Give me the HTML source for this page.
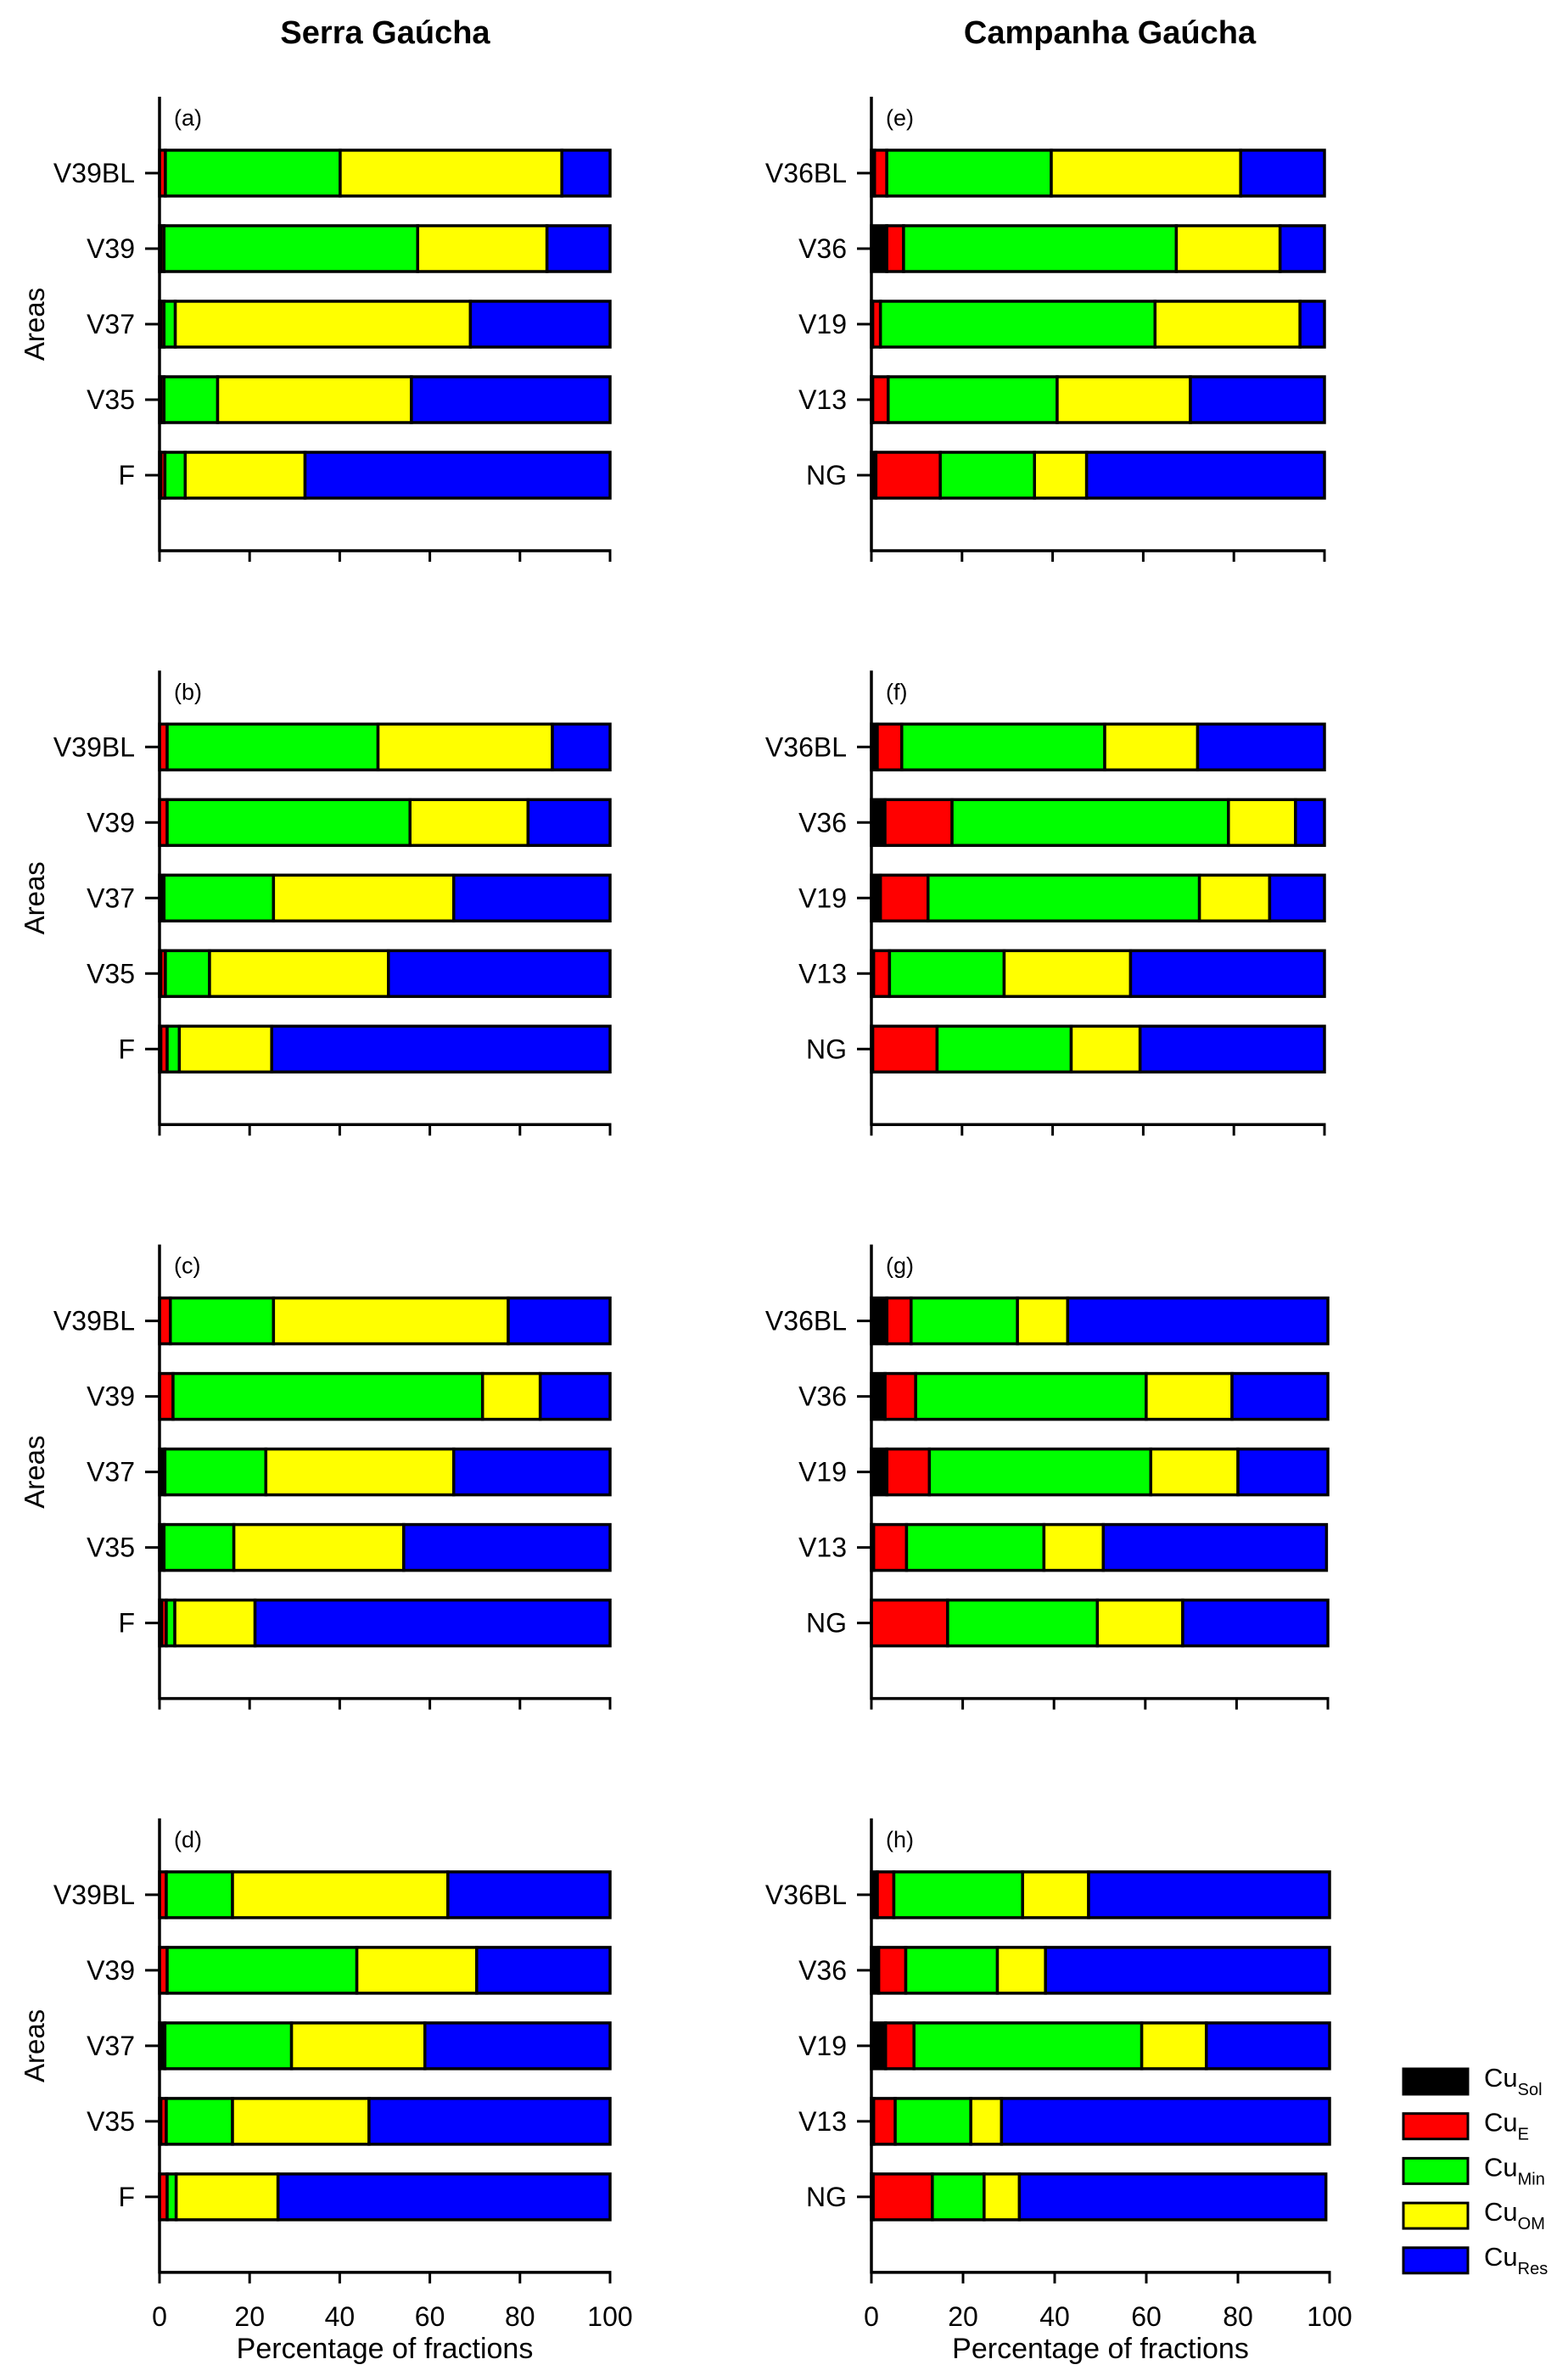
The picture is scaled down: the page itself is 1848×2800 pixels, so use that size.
<!DOCTYPE html>
<html><head><meta charset="utf-8"><style>
html,body{margin:0;padding:0;background:#fff;}
svg{display:block;font-family:"Liberation Sans",Arial,sans-serif;}
</style></head><body>
<svg id="chart" xmlns="http://www.w3.org/2000/svg" width="1848" height="2800" viewBox="0 0 1848 2800">
<text x="454" y="51" font-size="38" font-weight="bold" text-anchor="middle">Serra Gaúcha</text>
<text x="1308" y="51" font-size="38" font-weight="bold" text-anchor="middle">Campanha Gaúcha</text>
<g id="panels"></g>
<g id="legend"></g>
</svg>
<script>
const catsLeft = ["V39BL","V39","V37","V35","F"];
const catsRight = ["V36BL","V36","V19","V13","NG"];
const panelLabels = ["(a)","(b)","(c)","(d)","(e)","(f)","(g)","(h)"];
const fractionNames = ["Sol","E","Min","OM","Res"];
const fractionColors = ["#000000","#ff0000","#00ff00","#ffff00","#0000ff"];
const xTicks = [0,20,40,60,80,100];

const aSol=[0,0.3,0.3,0.3,0.3], aE=[1.3,0.7,0.7,0.7,0.9], aMin=[38.8,56.3,2.5,11.9,4.5], aOM=[49.2,28.7,65.5,43,26.6], aRes=[10.7,14,31,44.1,67.7];
const bSol=[0,0,1,0.3,0.3], bE=[1.7,1.7,0,1,1.4], bMin=[46.8,53.9,24.3,9.8,2.7], bOM=[38.7,26.2,40,39.7,20.5], bRes=[12.8,18.2,34.7,49.2,75.1];
const cSol=[0,0,1.2,1,0.5], cE=[2.4,3,0,0,1], cMin=[22.9,68.7,22.4,15.5,1.9], cOM=[52.1,12.8,41.7,37.7,17.8], cRes=[22.6,15.5,34.7,45.8,78.8];
const dSol=[0,0,1.2,0.3,0], dE=[1.5,1.7,0,1.2,1.7], dMin=[14.7,42.1,28.1,14.7,2], dOM=[47.8,26.6,29.6,30.3,22.6], dRes=[36,29.6,41.1,53.5,73.7];
const eSol=[0.7,3.4,0.3,0.3,1], eE=[2.7,3.7,1.7,3.4,14.2], eMin=[36.3,60.2,60.6,37.3,20.8], eOM=[41.8,22.9,32,29.4,11.5], eRes=[18.5,9.8,5.4,29.6,52.5];
const fSol=[1.3,3,2,0.5,0.3], fE=[5.4,14.8,10.5,3.5,14.2], fMin=[44.8,61,59.9,25.3,29.6], fOM=[20.5,14.8,15.5,27.9,15.2], fRes=[28,6.4,12.1,42.8,40.7];
const gSol=[3.4,3,3.4,0.5,0], gE=[5.3,6.7,9.3,7.2,16.7], gMin=[23.3,50.5,48.5,30.1,32.8], gOM=[11,18.8,19.1,13,18.7], gRes=[57,21,19.7,48.9,31.8];
const hSol=[1.3,1.6,3.1,0.5,0.4], hE=[3.6,5.9,6.2,4.7,12.9], hMin=[28.1,20,49.7,16.5,11.3], hOM=[14.4,10.5,14.1,6.7,7.7], hRes=[52.6,62,26.9,71.6,66.9];

const panelData = [
 [aSol,aE,aMin,aOM,aRes],[bSol,bE,bMin,bOM,bRes],[cSol,cE,cMin,cOM,cRes],[dSol,dE,dMin,dOM,dRes],
 [eSol,eE,eMin,eOM,eRes],[fSol,fE,fMin,fOM,fRes],[gSol,gE,gMin,gOM,gRes],[hSol,hE,hMin,hOM,hRes]
];
const rightEnds=[1561,1561,1565,1567];

const NS="http://www.w3.org/2000/svg";
const root=document.getElementById("panels");
function mk(tag,attrs,parent){const el=document.createElementNS(NS,tag);for(const k in attrs)el.setAttribute(k,attrs[k]);parent.appendChild(el);return el;}

for(let p=0;p<8;p++){
  const right=p>=4, row=p%4;
  const off=row*676.3;
  const x0=right?1027:188, x100=right?rightEnds[row]:719;
  const xs=v=>x0+(x100-x0)*v/100;
  const cats=right?catsRight:catsLeft;
  const g=mk("g",{},root);
  
  
  const top=114+off, bot=649+off;
  const data=panelData[p];
  for(let i=0;i<cats.length;i++){
    const yT=177+off+89*i;
    let acc=0;
    for(let f=0;f<5;f++){
      const v=data[f][i];
      if(v<=0){continue;}
      const r=mk("rect",{x:xs(acc),y:yT,width:xs(acc+v)-xs(acc),height:54,fill:fractionColors[f],stroke:"#000","stroke-width":3.5},g);
      
      
      acc+=v;
    }
    const yc=yT+27;
    const t=mk("line",{x1:x0-17,x2:x0,y1:yc,y2:yc,stroke:"#000","stroke-width":3},g);
    
    
    const lb=mk("text",{x:x0-29,y:yc+11,"font-size":32,"text-anchor":"end"},g);
    lb.textContent=cats[i];
    
    
  }
  const ya=mk("line",{x1:x0,x2:x0,y1:top,y2:bot+1.5,stroke:"#000","stroke-width":3.5},g);
  
  
  const xa=mk("line",{x1:x0,x2:x100+1.5,y1:bot,y2:bot,stroke:"#000","stroke-width":3.5},g);
  
  
  for(const tv of xTicks){
    const tk=mk("line",{x1:xs(tv),x2:xs(tv),y1:bot,y2:bot+13,stroke:"#000","stroke-width":3},g);
    
    
    if(row===3){
      const tl=mk("text",{x:xs(tv),y:2741,"font-size":32,"text-anchor":"middle"},g);
      tl.textContent=tv;
      
      
    }
  }
  const pl=mk("text",{x:x0+17,y:148+off,"font-size":27},g);
  pl.textContent=panelLabels[p];
  
  
  if(!right){
    const al=mk("text",{x:0,y:0,"font-size":33,"text-anchor":"middle",transform:`translate(52,${382+off}) rotate(-90)`},g);
    al.textContent="Areas";
    
    
  }
  if(row===3){
    const xt=mk("text",{x:(x0+x100)/2,y:2779,"font-size":34,"text-anchor":"middle"},g);
    xt.textContent="Percentage of fractions";
    
    
  }
}
const lg=document.getElementById("legend");
for(let f=0;f<5;f++){
  const y=2438+52.7*f;
  const r=mk("rect",{x:1654,y:y,width:76,height:30,fill:fractionColors[f],stroke:"#000","stroke-width":3},lg);
  
  
  const t=mk("text",{x:1749,y:y+21,"font-size":31},lg);
  
  
  t.appendChild(document.createTextNode("Cu"));
  const s=mk("tspan",{"font-size":20,dy:10},t);
  s.textContent=fractionNames[f];
}
</script>
</body></html>
